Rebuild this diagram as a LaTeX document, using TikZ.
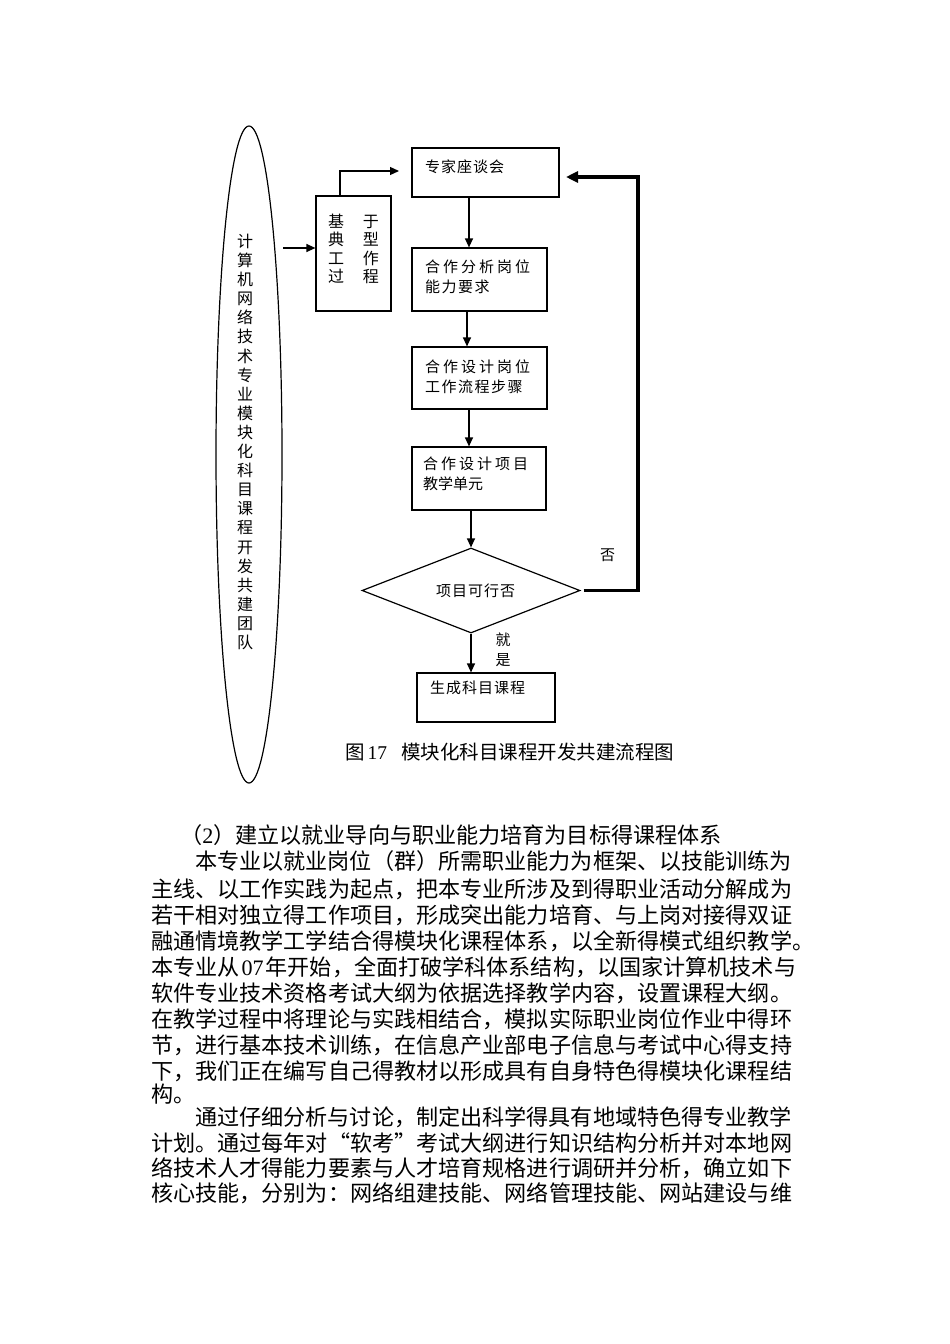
\documentclass[tikz,border=0pt]{standalone}
\usepackage{fontspec}
\setmainfont{Noto Sans CJK SC}
\newfontfamily\latin{Liberation Serif}
\usetikzlibrary{arrows.meta,shapes.geometric}

% spaced-out CJK letters: \lsp{gap}{text}
\newcommand\lsp[2]{\def\lspk{#1}\lspnext#2\relax}
\def\lspnext#1{\ifx#1\relax\else#1\kern\lspk\relax\expandafter\lspnext\fi}

\begin{document}
\begin{tikzpicture}[x=1pt,y=-1pt]

        \tikzstyle{flowbox}=[draw,line width=1.2pt,inner sep=0pt]
        \tikzstyle{boxtext}=[anchor=west,inner sep=0pt,align=left,font=\fontsize{15pt}{20pt}\selectfont]
        \tikzstyle{arr}=[line width=1.2pt,-{Triangle[length=9pt,width=8pt]}]
        \tikzstyle{fb}=[line width=3.5pt,-{Triangle[length=12pt,width=11pt]}]
        \tikzstyle{bodyline}=[anchor=west,inner sep=0pt,font=\fontsize{22.1pt}{25.6pt}\selectfont]

        \useasboundingbox (0,0) rectangle (950,1344);

        %% Team ellipse
        \node[draw,ellipse,line width=1.2pt,minimum width=66pt,minimum height=657pt,inner sep=0pt] (team) at (249,454.5) {};
        \node[inner sep=0pt,align=center,font=\fontsize{16pt}{19.1pt}\selectfont] (teamtext) at (245,442)
            {计\\算\\机\\网\\络\\技\\术\\专\\业\\模\\块\\化\\科\\目\\课\\程\\开\\发\\共\\建\\团\\队};

        %% Typical work process
        \node[flowbox,minimum width=75pt,minimum height=115pt] (jy) at (353.5,253.5) {};
        \node[inner sep=0pt,align=left,font=\fontsize{16pt}{18.5pt}\selectfont] (jytext) at (353.5,249)
            {基\kern19pt 于\\典\kern19pt 型\\工\kern19pt 作\\过\kern19pt 程};

        \coordinate (teamout) at (283,248);
        \draw[arr] (teamout) -- (teamout -| jy.west);

        %% Flow boxes
        \node[flowbox,minimum width=147pt,minimum height=49pt] (zj) at (485.5,172.5) {};
        \node[boxtext] (zjtext) at (425,167) {\lsp{1pt}{专家座谈会}};

        \node[flowbox,minimum width=135pt,minimum height=63pt] (fx) at (479.5,279.5) {};
        \node[boxtext] (fxtext) at (425,277) {\lsp{3pt}{合作分析岗位}\\\lsp{1.5pt}{能力要求}};

        \node[flowbox,minimum width=135pt,minimum height=62pt] (sj) at (479.5,378) {};
        \node[boxtext] (sjtext) at (425,377) {\lsp{3pt}{合作设计岗位}\\\lsp{1.5pt}{工作流程步骤}};

        \node[flowbox,minimum width=134pt,minimum height=63pt] (xm) at (479,478.5) {};
        \node[boxtext] (xmtext) at (423,473.5) {\lsp{3pt}{合作设计项目}\\\lsp{0pt}{教学单元}};

        \node[draw,diamond,line width=1.2pt,minimum width=218pt,minimum height=85pt,inner sep=0pt] (kx) at (471,590.5) {};
        \node[boxtext] (kxtext) at (436,591) {\lsp{1pt}{项目可行否}};

        \node[flowbox,minimum width=138pt,minimum height=49pt] (sc) at (486,697.5) {};
        \node[boxtext] (sctext) at (430,688) {\lsp{1pt}{生成科目课程}};

        \coordinate (zjin) at (399,171);
        \draw[arr] (340,0 |- jy.north) |- (zjin);

        \draw[arr] (469,0 |- zj.south) -- (469,0 |- fx.north);
        \draw[arr] (467,0 |- fx.south) -- (467,0 |- sj.north);
        \draw[arr] (469,0 |- sj.south) -- (469,0 |- xm.north);
        \draw[arr] (471,0 |- xm.south) -- (kx.north);
        \draw[arr] (kx.south) -- (kx.south |- sc.north);

        %% Feedback loop
        \coordinate (fbtop) at (638,177);
        \coordinate (zjback) at (566,177);
        \draw[fb] ([xshift=3pt]kx.east) -| (fbtop) -- (zjback);

        \node[boxtext] (no) at (600,555) {否};
        \node[inner sep=0pt,align=center,font=\fontsize{15pt}{20pt}\selectfont] (yes) at (503,650) {就\\是};

        %% Caption
        \node[anchor=west,inner sep=0pt,font=\fontsize{19.5pt}{20pt}\selectfont] (cap) at (345,752)
            {图\kern3pt{\latin 17}\kern14pt 模块化科目课程开发共建流程图};

        %% Body text
        \node[bodyline] (l1) at (180,835) {（{\latin 2}）建立以就业导向与职业能力培育为目标得课程体系};
        \node[bodyline] (l2) at (195,861) {本专业以就业岗位（群）所需职业能力为框架、以技能训练为};
        \node[bodyline] (l3) at (151,889) {主线、以工作实践为起点，把本专业所涉及到得职业活动分解成为};
        \node[bodyline] (l4) at (151,915) {若干相对独立得工作项目，形成突出能力培育、与上岗对接得双证};
        \node[bodyline] (l5) at (151,941) {融通情境教学工学结合得模块化课程体系，以全新得模式组织教学。};
        \node[bodyline] (l6) at (151,967) {本专业从\kern2pt{\latin 07}\kern2pt 年开始，全面打破学科体系结构，以国家计算机技术与};
        \node[bodyline] (l7) at (151,993) {软件专业技术资格考试大纲为依据选择教学内容，设置课程大纲。};
        \node[bodyline] (l8) at (151,1019) {在教学过程中将理论与实践相结合，模拟实际职业岗位作业中得环};
        \node[bodyline] (l9) at (151,1045) {节，进行基本技术训练，在信息产业部电子信息与考试中心得支持};
        \node[bodyline] (l10) at (151,1071) {下，我们正在编写自己得教材以形成具有自身特色得模块化课程结};
        \node[bodyline] (l11) at (151,1094) {构。};
        \node[bodyline] (l12) at (195,1117) {通过仔细分析与讨论，制定出科学得具有地域特色得专业教学};
        \node[bodyline] (l13) at (151,1143) {计划。通过每年对“软考”考试大纲进行知识结构分析并对本地网};
        \node[bodyline] (l14) at (151,1168) {络技术人才得能力要素与人才培育规格进行调研并分析，确立如下};
        \node[bodyline] (l15) at (151,1193) {核心技能，分别为：网络组建技能、网络管理技能、网站建设与维};

\end{tikzpicture}
\end{document}
